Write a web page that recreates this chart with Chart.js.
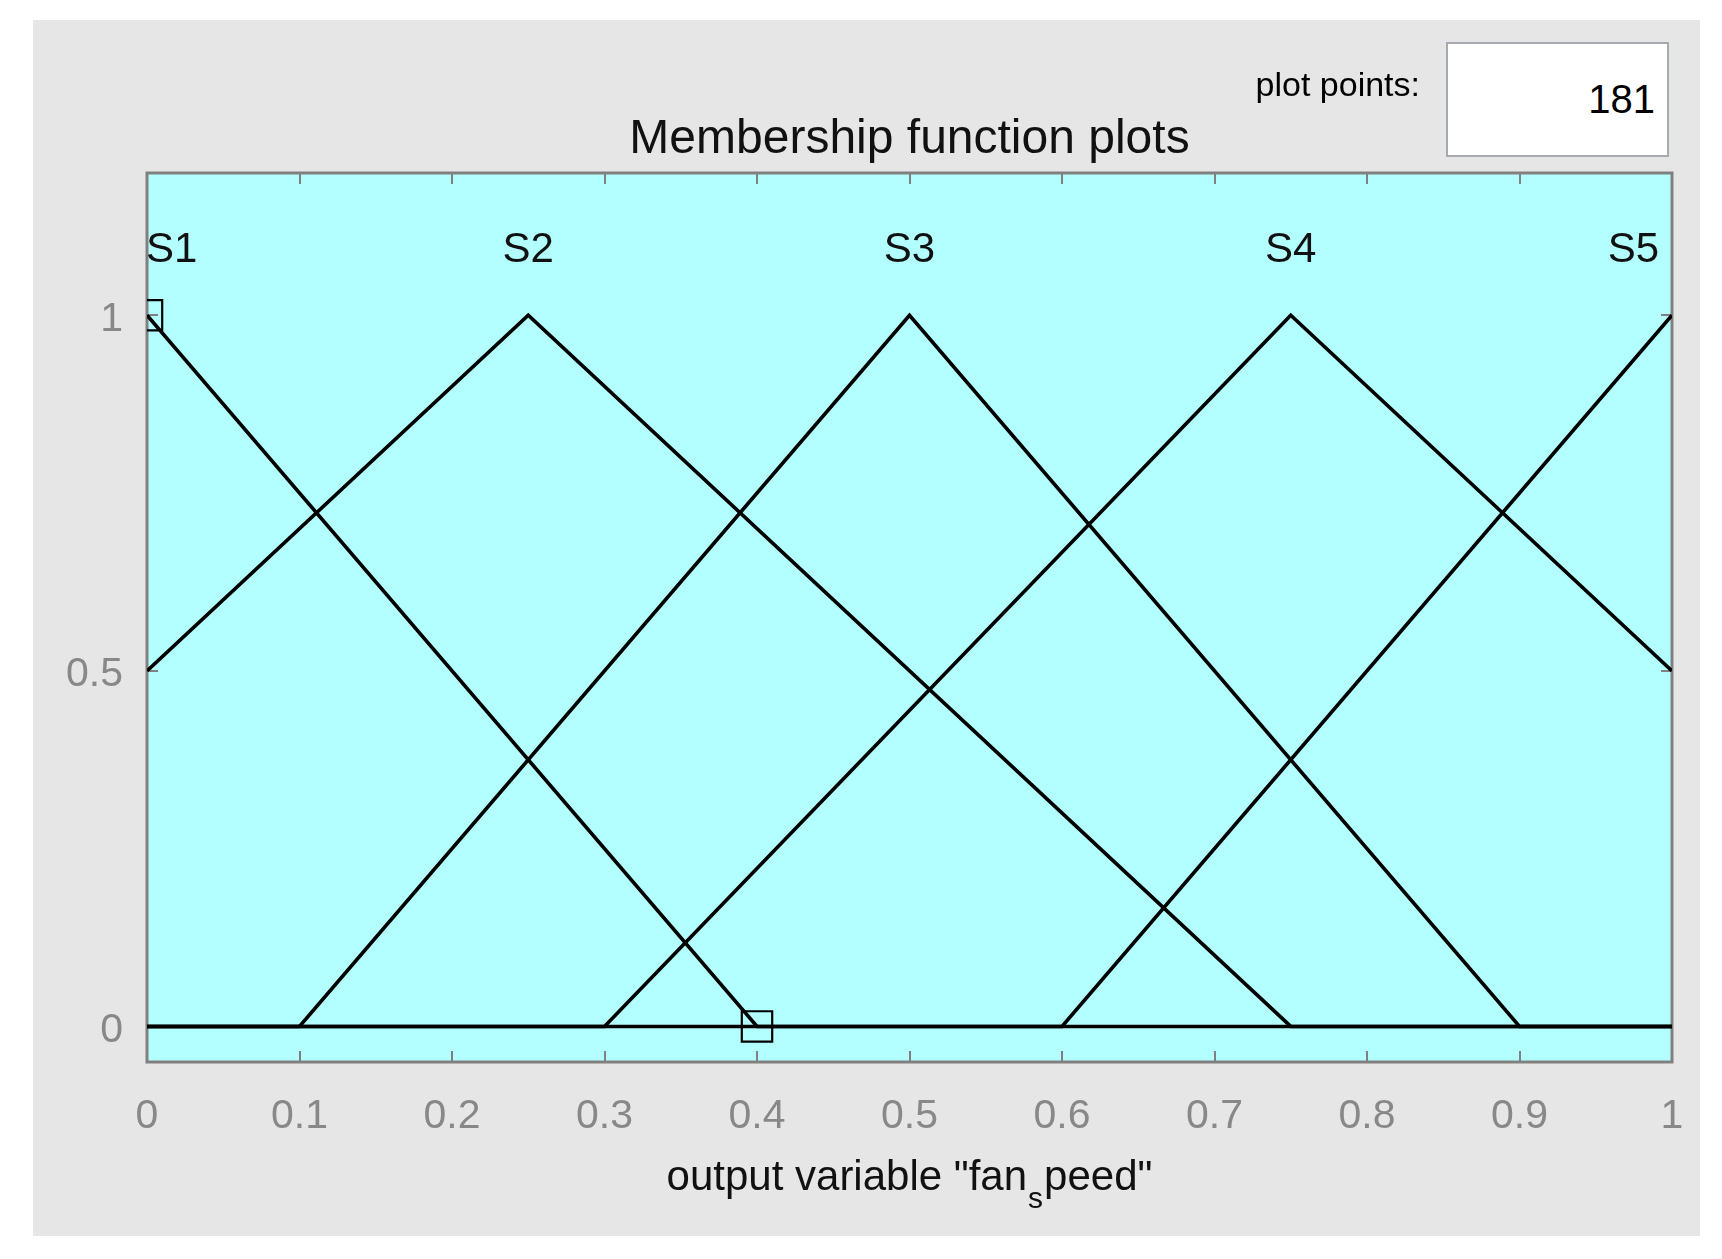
<!DOCTYPE html>
<html>
<head>
<meta charset="utf-8">
<script src="https://cdn.jsdelivr.net/npm/chart.js@4/dist/chart.umd.min.js"></script>
<style>
html,body{margin:0;padding:0;background:#fff;}
#wrap{position:relative;width:1722px;height:1259px;overflow:hidden;}
#c{position:absolute;left:0;top:0;}
#pp{position:absolute;left:1200px;width:220px;top:64px;text-align:right;font:34px 'Liberation Sans',Arial,sans-serif;color:#000;line-height:40px;white-space:nowrap;}
#box{position:absolute;left:1446px;top:42px;width:219px;height:111px;border:2px solid #a6a9b0;background:#fff;display:flex;align-items:center;justify-content:flex-end;}
#box span{font:40px 'Liberation Sans',Arial,sans-serif;color:#000;padding-right:12px;}
</style>
</head>
<body>
<div id="wrap">
  <canvas id="c" width="1722" height="1259"></canvas>
  <div id="pp">plot points:</div>
  <div id="box"><span id="ppv"></span></div>
</div>
<script>
// ---- data ----
const chartTitle = 'Membership function plots';
const xLabelMain = 'output variable "fan';
const xLabelSub = 's';
const xLabelRest = 'peed"';
const plotPoints = 181;

const xTickValues = [0, 0.1, 0.2, 0.3, 0.4, 0.5, 0.6, 0.7, 0.8, 0.9, 1];
const xTickLabels = ['0', '0.1', '0.2', '0.3', '0.4', '0.5', '0.6', '0.7', '0.8', '0.9', '1'];
const yTickValues = [0, 0.5, 1];
const yTickLabels = ['0', '0.5', '1'];

const mfNames = ['S1', 'S2', 'S3', 'S4', 'S5'];
const mfPeaks = [0, 0.25, 0.5, 0.75, 1];
const mfLabelY = 1.1;

const s1X = [0, 0.4, 1];          const s1Y = [1, 0, 0];
const s2X = [0, 0.25, 0.75, 1];   const s2Y = [0.5, 1, 0, 0];
const s3X = [0, 0.1, 0.5, 0.9, 1]; const s3Y = [0, 0, 1, 0, 0];
const s4X = [0, 0.3, 0.75, 1];    const s4Y = [0, 0, 1, 0.5];
const s5X = [0, 0.6, 1];          const s5Y = [0, 0, 1];

const handleX = [0, 0.4];
const handleY = [1, 0];

// ---- build ----
document.getElementById('ppv').textContent = String(plotPoints);

const FONT = "'Liberation Sans', Arial, sans-serif";
const pts = (xs, ys) => xs.map((x, i) => ({x: x, y: ys[i]}));
const lineDs = (label, xs, ys) => ({
  label: label, type: 'scatter', showLine: true, data: pts(xs, ys),
  borderColor: '#000', borderWidth: 3.6, pointRadius: 0, pointHoverRadius: 0,
  tension: 0, fill: false
});

const decor = {
  id: 'decor',
  beforeDraw(chart) {
    const {ctx, chartArea: a} = chart;
    ctx.save();
    ctx.fillStyle = '#fff';
    ctx.fillRect(0, 0, chart.width, chart.height);
    ctx.fillStyle = '#e6e6e6';
    ctx.fillRect(33, 20, 1667, 1216);
    ctx.fillStyle = 'rgb(179,255,255)';
    ctx.fillRect(a.left, a.top, a.right - a.left, a.bottom - a.top);
    ctx.restore();
  },
  beforeDatasetsDraw(chart) {
    const {ctx, chartArea: a, scales} = chart;
    const xs = scales.x, ys = scales.y;
    ctx.save();
    ctx.strokeStyle = '#808080';
    ctx.lineWidth = 2;
    ctx.beginPath();
    xTickValues.forEach(v => {
      const px = Math.round(xs.getPixelForValue(v));
      ctx.moveTo(px, a.top); ctx.lineTo(px, a.top + 11);
      ctx.moveTo(px, a.bottom); ctx.lineTo(px, a.bottom - 11);
    });
    yTickValues.forEach(v => {
      const py = Math.round(ys.getPixelForValue(v));
      ctx.moveTo(a.left, py); ctx.lineTo(a.left + 11, py);
      ctx.moveTo(a.right, py); ctx.lineTo(a.right - 11, py);
    });
    ctx.stroke();
    ctx.lineWidth = 3;
    ctx.strokeRect(a.left, a.top, a.right - a.left, a.bottom - a.top);
    ctx.restore();
  },
  afterDraw(chart) {
    const {ctx, chartArea: a, scales} = chart;
    const xs = scales.x, ys = scales.y;
    ctx.save();
    // MF names
    ctx.fillStyle = '#111';
    ctx.font = '42px ' + FONT;
    ctx.textBaseline = 'middle';
    const ly = ys.getPixelForValue(mfLabelY) + 6;
    mfNames.forEach((n, i) => {
      const px = xs.getPixelForValue(mfPeaks[i]);
      const w = ctx.measureText(n).width;
      let left = px - w / 2;
      if (left < a.left - 1) left = a.left - 1;
      if (left + w > a.right - 13) left = a.right - 13 - w;
      ctx.textAlign = 'left';
      ctx.fillText(n, left, ly);
    });
    // title
    ctx.textBaseline = 'alphabetic';
    ctx.textAlign = 'center';
    ctx.font = '48px ' + FONT;
    ctx.fillStyle = '#111';
    ctx.fillText(chartTitle, (a.left + a.right) / 2, 153);
    // x-axis label with subscript
    ctx.textAlign = 'left';
    ctx.font = '42px ' + FONT;
    const w1 = ctx.measureText(xLabelMain).width;
    const w3 = ctx.measureText(xLabelRest).width;
    ctx.font = '30px ' + FONT;
    const w2 = ctx.measureText(xLabelSub).width + 2;
    const total = w1 + w2 + w3;
    let sx = (a.left + a.right) / 2 - total / 2;
    const base = a.bottom + 128;
    ctx.font = '42px ' + FONT;
    ctx.fillText(xLabelMain, sx, base);
    ctx.font = '30px ' + FONT;
    ctx.fillText(xLabelSub, sx + w1 + 1, base + 18);
    ctx.font = '42px ' + FONT;
    ctx.fillText(xLabelRest, sx + w1 + w2, base);
    ctx.restore();
  }
};

new Chart(document.getElementById('c'), {
  type: 'scatter',
  data: {
    datasets: [
      lineDs('S1', s1X, s1Y),
      lineDs('S2', s2X, s2Y),
      lineDs('S3', s3X, s3Y),
      lineDs('S4', s4X, s4Y),
      lineDs('S5', s5X, s5Y),
      {
        label: 'handles', type: 'scatter', showLine: false, data: pts(handleX, handleY),
        pointStyle: 'rect', pointRadius: 21.5, pointHoverRadius: 21.5,
        pointBorderWidth: 2.2, pointBorderColor: '#000', pointBackgroundColor: 'rgba(0,0,0,0)',
        clip: 0
      }
    ]
  },
  options: {
    responsive: false,
    devicePixelRatio: 1,
    animation: false,
    events: [],
    layout: {padding: {left: 47, right: 50, top: 173, bottom: 117}},
    plugins: {legend: {display: false}, tooltip: {enabled: false}, title: {display: false}},
    scales: {
      x: {
        type: 'linear', position: 'bottom', min: 0, max: 1,
        grid: {display: false}, border: {display: false},
        afterBuildTicks: s => { s.ticks = xTickValues.map(v => ({value: v})); },
        afterFit: s => { s.height = 80; s.paddingLeft = 0; s.paddingRight = 0; },
        ticks: {
          autoSkip: false, maxRotation: 0, minRotation: 0, padding: 22,
          color: '#888', font: {family: FONT, size: 41},
          callback: (v, i) => xTickLabels[i]
        }
      },
      y: {
        type: 'linear', position: 'left', min: -0.05, max: 1.2,
        grid: {display: false}, border: {display: false},
        afterBuildTicks: s => { s.ticks = yTickValues.map(v => ({value: v})); },
        afterFit: s => { s.width = 100; s.paddingTop = 0; s.paddingBottom = 0; },
        ticks: {
          autoSkip: false, padding: 16, labelOffset: 4,
          color: '#888', font: {family: FONT, size: 41},
          callback: (v, i) => yTickLabels[i]
        }
      }
    }
  },
  plugins: [decor]
});
</script>
</body>
</html>
